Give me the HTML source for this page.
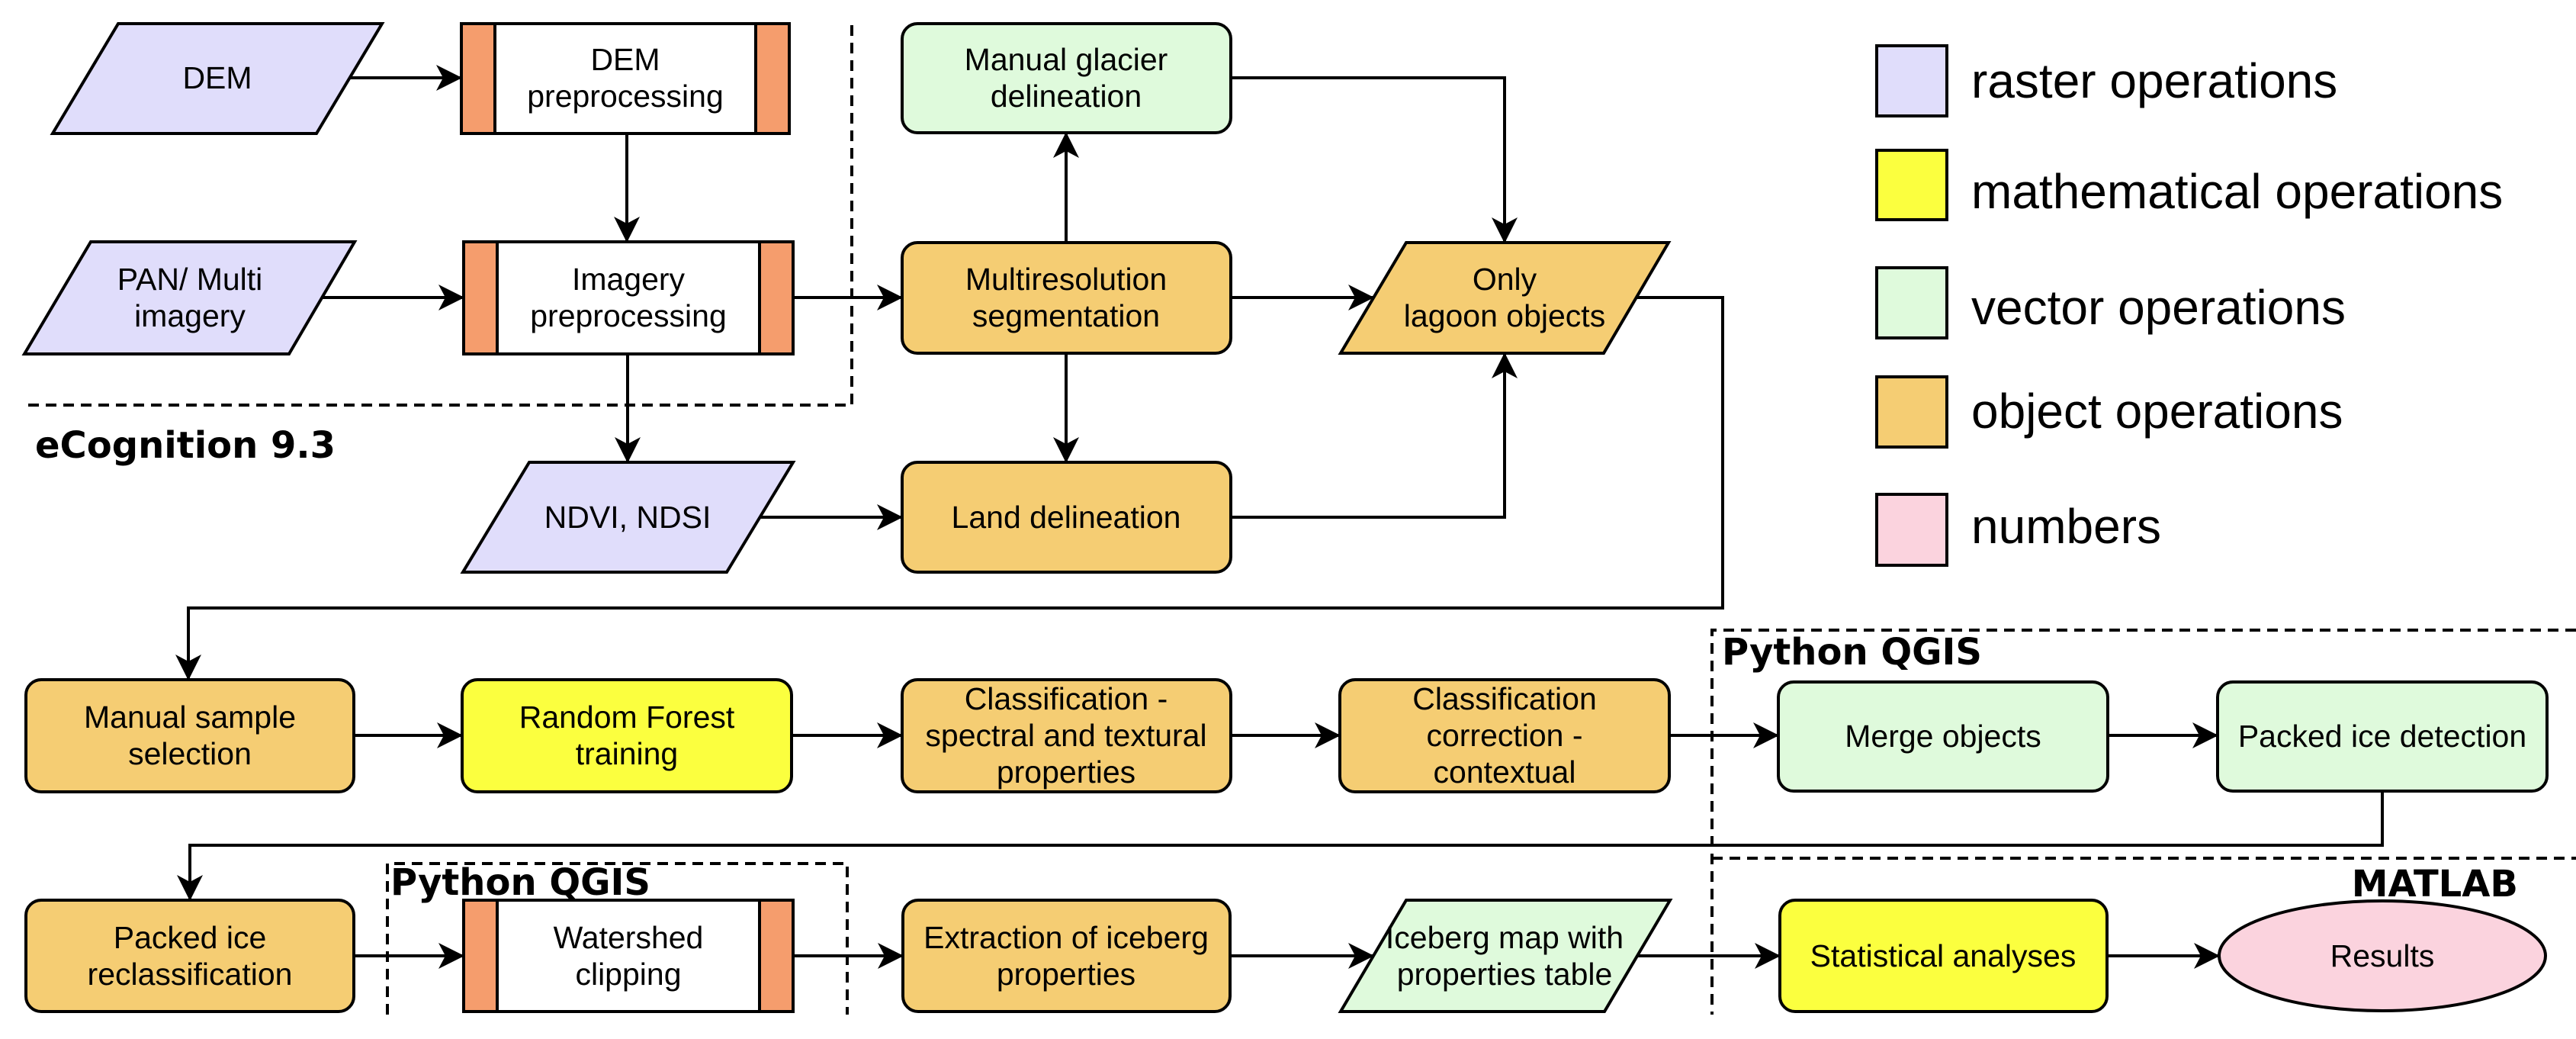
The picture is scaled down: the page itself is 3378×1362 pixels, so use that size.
<!DOCTYPE html>
<html><head><meta charset="utf-8"><style>
html,body{margin:0;padding:0;background:#fff;}
svg{display:block;}
text{font-family:"Liberation Sans",Arial,sans-serif;font-size:41px;fill:#000;}
.b{font-family:"DejaVu Sans",sans-serif;font-weight:bold;font-size:48px;}
.lg{font-size:64px;}
</style></head><body>
<svg width="3378" height="1362" viewBox="0 0 3378 1362" xmlns="http://www.w3.org/2000/svg">
<defs>
<marker id="a" viewBox="0 0 34 34" refX="33" refY="17" markerWidth="34" markerHeight="34" markerUnits="userSpaceOnUse" orient="auto">
<path d="M0,0 L34,17 L0,34 L9,17 Z" fill="#000"/>
</marker>
</defs>
<g fill="none" stroke="#000" stroke-width="4" stroke-dasharray="14,9">
<polyline points="37,531 1117,531 1117,25"/>
<polyline points="3378,826 2245,826 2245,1330"/>
<line x1="2245" y1="1125" x2="3378" y2="1125"/>
<polyline points="508,1330 508,1132 1111,1132 1111,1330"/>
</g>
<g stroke="#000" stroke-width="4">
<rect x="605" y="31" width="430" height="144" fill="#fff"/>
<rect x="605" y="31" width="44" height="144" fill="#f59d6d"/>
<rect x="991" y="31" width="44" height="144" fill="#f59d6d"/>
<rect x="608" y="317" width="432" height="147" fill="#fff"/>
<rect x="608" y="317" width="44" height="147" fill="#f59d6d"/>
<rect x="996" y="317" width="44" height="147" fill="#f59d6d"/>
<rect x="608" y="1180" width="432" height="146" fill="#fff"/>
<rect x="608" y="1180" width="44" height="146" fill="#f59d6d"/>
<rect x="996" y="1180" width="44" height="146" fill="#f59d6d"/>
<polygon points="155,31 501,31 415,175 69,175" fill="#e0ddfb"/>
<polygon points="119,317 465,317 379,464 32,464" fill="#e0ddfb"/>
<polygon points="694,606 1040,606 953,750 607,750" fill="#e0ddfb"/>
<polygon points="1844,318 2188,318 2103,463 1758,463" fill="#f5cd73"/>
<polygon points="1844,1180 2190,1180 2104,1326 1758,1326" fill="#dffadc"/>
<rect x="1183" y="31" width="431" height="143" rx="20" fill="#dffadc"/>
<rect x="1183" y="318" width="431" height="145" rx="20" fill="#f5cd73"/>
<rect x="1183" y="606" width="431" height="144" rx="20" fill="#f5cd73"/>
<rect x="34" y="891" width="430" height="147" rx="20" fill="#f5cd73"/>
<rect x="606" y="891" width="432" height="147" rx="20" fill="#fbff3f"/>
<rect x="1183" y="891" width="431" height="147" rx="20" fill="#f5cd73"/>
<rect x="1757" y="891" width="432" height="147" rx="20" fill="#f5cd73"/>
<rect x="2332" y="894" width="432" height="143" rx="20" fill="#dffadc"/>
<rect x="2908" y="894" width="432" height="143" rx="20" fill="#dffadc"/>
<rect x="34" y="1180" width="430" height="146" rx="20" fill="#f5cd73"/>
<rect x="1184" y="1180" width="429" height="146" rx="20" fill="#f5cd73"/>
<rect x="2334" y="1180" width="429" height="146" rx="20" fill="#fbff3f"/>
<ellipse cx="3124" cy="1253" rx="214" ry="72" fill="#fbd3de"/>
<rect x="2461" y="60" width="92" height="92" fill="#e0ddfb"/>
<rect x="2461" y="197" width="92" height="91" fill="#fbff3f"/>
<rect x="2461" y="351" width="92" height="92" fill="#dffadc"/>
<rect x="2461" y="494" width="92" height="92" fill="#f5cd73"/>
<rect x="2461" y="648" width="92" height="93" fill="#fbd3de"/>
</g>
<g fill="none" stroke="#000" stroke-width="4" marker-end="url(#a)">
<line x1="458" y1="102" x2="605" y2="102"/>
<line x1="822" y1="175" x2="822" y2="317"/>
<line x1="422" y1="390" x2="608" y2="390"/>
<line x1="1040" y1="390" x2="1183" y2="390"/>
<line x1="823" y1="464" x2="823" y2="606"/>
<line x1="996" y1="678" x2="1183" y2="678"/>
<line x1="1398" y1="318" x2="1398" y2="174"/>
<line x1="1398" y1="463" x2="1398" y2="606"/>
<line x1="1614" y1="390" x2="1801" y2="390"/>
<polyline points="1614,102 1973,102 1973,318"/>
<polyline points="1614,678 1973,678 1973,463"/>
<polyline points="2145,390 2259,390 2259,797 247,797 247,891"/>
<line x1="464" y1="964" x2="606" y2="964"/>
<line x1="1038" y1="964" x2="1183" y2="964"/>
<line x1="1614" y1="964" x2="1757" y2="964"/>
<line x1="2189" y1="964" x2="2332" y2="964"/>
<line x1="2764" y1="964" x2="2908" y2="964"/>
<polyline points="3124,1037 3124,1108 249,1108 249,1180"/>
<line x1="464" y1="1253" x2="608" y2="1253"/>
<line x1="1040" y1="1253" x2="1184" y2="1253"/>
<line x1="1613" y1="1253" x2="1801" y2="1253"/>
<line x1="2147" y1="1253" x2="2334" y2="1253"/>
<line x1="2763" y1="1253" x2="2910" y2="1253"/>
</g>
<g text-anchor="middle">
<text x="285" y="116">DEM</text>
<text x="820" y="92">DEM</text><text x="820" y="140">preprocessing</text>
<text x="249" y="380">PAN/ Multi</text><text x="249" y="428">imagery</text>
<text x="824" y="380">Imagery</text><text x="824" y="428">preprocessing</text>
<text x="823" y="692">NDVI, NDSI</text>
<text x="1398" y="92">Manual glacier</text><text x="1398" y="140">delineation</text>
<text x="1398" y="380">Multiresolution</text><text x="1398" y="428">segmentation</text>
<text x="1398" y="692">Land delineation</text>
<text x="1973" y="380">Only</text><text x="1973" y="428">lagoon objects</text>
<text x="249" y="954">Manual sample</text><text x="249" y="1002">selection</text>
<text x="822" y="954">Random Forest</text><text x="822" y="1002">training</text>
<text x="1398" y="930">Classification -</text><text x="1398" y="978">spectral and textural</text><text x="1398" y="1026">properties</text>
<text x="1973" y="930">Classification</text><text x="1973" y="978">correction -</text><text x="1973" y="1026">contextual</text>
<text x="2548" y="979">Merge objects</text>
<text x="3124" y="979">Packed ice detection</text>
<text x="249" y="1243">Packed ice</text><text x="249" y="1291">reclassification</text>
<text x="824" y="1243">Watershed</text><text x="824" y="1291">clipping</text>
<text x="1398" y="1243">Extraction of iceberg</text><text x="1398" y="1291">properties</text>
<text x="1973" y="1243">Iceberg map with</text><text x="1973" y="1291">properties table</text>
<text x="2548" y="1267">Statistical analyses</text>
<text x="3124" y="1267">Results</text>
</g>
<text class="b" x="46" y="600">eCognition 9.3</text>
<text class="b" x="512" y="1173">Python QGIS</text>
<text class="b" x="2258" y="871">Python QGIS</text>
<text class="b" x="3302" y="1175" text-anchor="end">MATLAB</text>
<text class="lg" x="2585" y="128">raster operations</text>
<text class="lg" x="2585" y="273">mathematical operations</text>
<text class="lg" x="2585" y="425">vector operations</text>
<text class="lg" x="2585" y="561">object operations</text>
<text class="lg" x="2585" y="712">numbers</text>
</svg>
</body></html>
